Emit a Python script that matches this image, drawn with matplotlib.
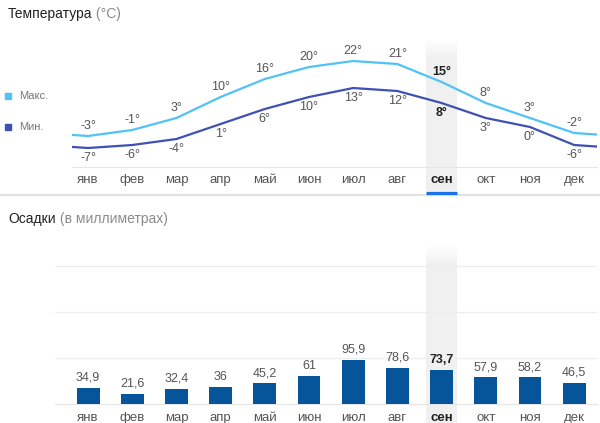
import numpy as np
import matplotlib
matplotlib.use('Agg')
import matplotlib.pyplot as plt
from matplotlib.patches import Rectangle
from matplotlib.lines import Line2D

plt.rcParams['font.family'] = ['Liberation Sans', 'DejaVu Sans']

# данные
months = ['янв', 'фев', 'мар', 'апр', 'май', 'июн', 'июл', 'авг', 'сен', 'окт', 'ноя', 'дек']
t_max = [-3, -1, 3, 10, 16, 20, 22, 21, 15, 8, 3, -2]
t_min = [-7, -6, -4, 1, 6, 10, 13, 12, 8, 3, 0, -6]
precip = [34.9, 21.6, 32.4, 36, 45.2, 61, 95.9, 78.6, 73.7, 57.9, 58.2, 46.5]
precip_labels = ['34,9', '21,6', '32,4', '36', '45,2', '61', '95,9', '78,6', '73,7', '57,9', '58,2', '46,5']
current = 8  # сен

C_MAX = '#4fc3f7'
C_MIN = '#3f51b5'
C_BAR = '#06559b'
C_TXT = '#555555'
C_DARK = '#212121'
C_GRAY = '#777777'

W, H = 600, 423
fig = plt.figure(figsize=(W / 100, H / 100), dpi=100)


def px_axes(l, t, r, b):
    return fig.add_axes([l / W, 1 - b / H, (r - l) / W, (b - t) / H])


def column(ax, y0, y1, fade):
    # серая подсветка текущего месяца, сверху растворяется
    n = 200
    img = np.zeros((n, 1, 4))
    img[..., :3] = 0.945
    pos = np.linspace(0, 1, n)
    img[:, 0, 3] = np.clip(pos / fade, 0, 1)
    ax.imshow(img, extent=(current - 0.35, current + 0.35, y0, y1), aspect='auto',
              origin='upper', zorder=0, clip_on=False, interpolation='bilinear')


def style_axes(ax, pad):
    for s in ['top', 'right', 'left']:
        ax.spines[s].set_visible(False)
    ax.spines['bottom'].set_color('#e6e6e6')
    ax.set_xticks(range(12))
    ax.set_xticklabels(months)
    ax.tick_params(axis='x', length=0, pad=pad, labelsize=9.5, labelcolor=C_TXT)
    ax.tick_params(axis='y', length=0, labelleft=False)
    lab = ax.get_xticklabels()[current]
    lab.set_fontweight('bold')
    lab.set_color(C_DARK)


# ---------- температура ----------
ax1 = px_axes(72, 40, 597, 167)
column(ax1, -21.7, 29, 0.13)
x = np.arange(-1, 13)
ax1.plot(x, [t_max[-1]] + t_max + [t_max[0]], color=C_MAX, lw=1.6, zorder=3)
ax1.plot(x, [t_min[-1]] + t_min + [t_min[0]], color=C_MIN, lw=1.6, zorder=3)
for i in range(12):
    bold = i == current
    kw = dict(ha='center', fontsize=9, textcoords='offset points',
              color=C_DARK if bold else C_TXT, fontweight='bold' if bold else 'normal')
    ax1.annotate(f'{t_max[i]}°', (i, t_max[i]), xytext=(0, 3), va='bottom', **kw)
    ax1.annotate(f'{t_min[i]}°', (i, t_min[i]), xytext=(0, -3), va='top', **kw)
ax1.set_xlim(-0.362, 11.516)
ax1.set_ylim(-13.33, 29)
style_axes(ax1, 5)

# легенда
fig.add_artist(Rectangle((5 / W, 1 - 99 / H), 6 / W, 6 / H, color=C_MAX, transform=fig.transFigure))
fig.add_artist(Rectangle((5 / W, 1 - 130 / H), 6 / W, 6 / H, color=C_MIN, transform=fig.transFigure))
fig.text(19 / W, 1 - 96 / H, 'Макс.', fontsize=8, color=C_GRAY, va='center')
fig.text(19 / W, 1 - 127 / H, 'Мин.', fontsize=8, color=C_GRAY, va='center')

# заголовки
t1 = fig.text(8 / W, 1 - 14 / H, 'Температура', fontsize=10, color=C_DARK, va='center')
fig.add_artist(plt.Annotation(' (°C)', xy=(1, 0), xycoords=t1, va='bottom',
                              fontsize=10, color='#8a8a8a'))
t2 = fig.text(8 / W, 1 - 219 / H, 'Осадки', fontsize=10, color=C_DARK, va='center')
fig.add_artist(plt.Annotation(' (в миллиметрах)', xy=(1, 0), xycoords=t2, va='bottom',
                              fontsize=10, color='#8a8a8a'))

# разделитель и синяя черта под текущим месяцем
fig.add_artist(Line2D([0, 1], [1 - 195 / H, 1 - 195 / H], color='#e2e2e2', lw=1.6,
                      transform=fig.transFigure))
x0 = ax1.transData.transform((current - 0.35, 0))[0] / W
x1 = ax1.transData.transform((current + 0.35, 0))[0] / W
fig.add_artist(Line2D([x0, x1], [1 - 193.5 / H, 1 - 193.5 / H], color='#1a73e8', lw=2.3,
                      solid_capstyle='butt', transform=fig.transFigure))

# ---------- осадки ----------
ax2 = px_axes(55, 245, 597, 404)
column(ax2, -41.3, 345.7, 0.11)
ax2.bar(range(12), precip, width=0.52, color=C_BAR, zorder=3)
for i in range(12):
    bold = i == current
    ax2.annotate(precip_labels[i], (i, precip[i]), xytext=(0, 3), textcoords='offset points',
                 ha='center', va='bottom', fontsize=9,
                 color=C_DARK if bold else C_TXT, fontweight='bold' if bold else 'normal')
ax2.set_yticks([100, 200, 300])
ax2.grid(axis='y', color='#eeeeee', lw=1)
ax2.set_axisbelow(True)
ax2.set_xlim(-0.747, 11.516)
ax2.set_ylim(0, 345.7)
style_axes(ax2, 6)

fig.savefig('out.png', dpi=100)
